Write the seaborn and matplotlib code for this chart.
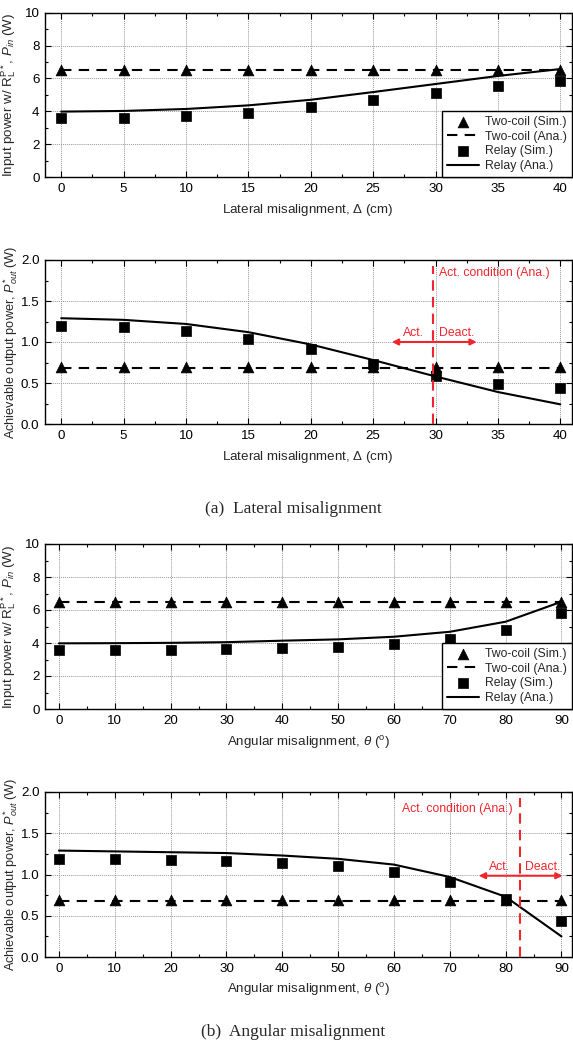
import numpy as np
import pandas as pd
import matplotlib
matplotlib.use("Agg")
import matplotlib.pyplot as plt
import seaborn as sns
from matplotlib.ticker import MultipleLocator

# ---------------- data ----------------
lat_x = [0, 5, 10, 15, 20, 25, 30, 35, 40]
lat_pin_two_sim = [6.5, 6.5, 6.5, 6.5, 6.5, 6.5, 6.5, 6.5, 6.5]
lat_pin_two_ana = [6.5, 6.5, 6.5, 6.5, 6.5, 6.5, 6.5, 6.5, 6.5]
lat_pin_relay_sim = [3.57, 3.60, 3.69, 3.90, 4.24, 4.69, 5.13, 5.52, 5.84]
lat_pin_relay_ana = [3.98, 4.02, 4.14, 4.36, 4.70, 5.17, 5.66, 6.15, 6.57]

lat_pout_two_sim = [0.69, 0.69, 0.69, 0.69, 0.69, 0.69, 0.69, 0.69, 0.69]
lat_pout_two_ana = [0.68, 0.68, 0.68, 0.68, 0.68, 0.68, 0.68, 0.68, 0.68]
lat_pout_relay_sim = [1.19, 1.18, 1.13, 1.04, 0.91, 0.73, 0.59, 0.49, 0.435]
lat_pout_relay_ana = [1.29, 1.27, 1.22, 1.12, 0.97, 0.78, 0.58, 0.39, 0.24]
lat_act = 29.8

ang_x = [0, 10, 20, 30, 40, 50, 60, 70, 80, 90]
ang_pin_two_sim = [6.5] * 10
ang_pin_two_ana = [6.5] * 10
ang_pin_relay_sim = [3.58, 3.58, 3.58, 3.62, 3.68, 3.78, 3.92, 4.24, 4.77, 5.82]
ang_pin_relay_ana = [3.98, 3.99, 4.01, 4.05, 4.14, 4.22, 4.38, 4.68, 5.29, 6.50]

ang_pout_two_sim = [0.69] * 10
ang_pout_two_ana = [0.68] * 10
ang_pout_relay_sim = [1.19, 1.19, 1.18, 1.16, 1.14, 1.10, 1.03, 0.91, 0.70, 0.44]
ang_pout_relay_ana = [1.29, 1.28, 1.27, 1.26, 1.23, 1.19, 1.12, 0.97, 0.73, 0.25]
ang_act = 82.5

labels = ["Two-coil (Sim.)", "Two-coil (Ana.)", "Relay (Sim.)", "Relay (Ana.)"]

# ---------------- style ----------------
sns.set_style("ticks")
plt.rcParams["font.family"] = ["Liberation Sans", "DejaVu Sans"]
plt.rcParams["mathtext.fontset"] = "custom"
plt.rcParams["mathtext.rm"] = "Liberation Sans"
plt.rcParams["mathtext.it"] = "Liberation Sans:italic"
FS = 9.6      # ticks and axis labels
LFS = 8.8     # legend and annotations
RED = "#f0262e"

fig = plt.figure(figsize=(5.73, 10.54), dpi=100)
W, H = 573.0, 1054.0


def make_ax(top, bottom):
    return fig.add_axes([45 / W, 1 - bottom / H, 526.5 / W, (bottom - top) / H])


def style_ax(ax, xlim, xmaj, xmin, ylim, ymaj, ymin, fmt):
    ax.set_xlim(*xlim)
    ax.set_ylim(*ylim)
    ax.xaxis.set_major_locator(MultipleLocator(xmaj))
    ax.xaxis.set_minor_locator(MultipleLocator(xmin))
    ax.yaxis.set_major_locator(MultipleLocator(ymaj))
    ax.yaxis.set_minor_locator(MultipleLocator(ymin))
    ax.yaxis.set_major_formatter(plt.FormatStrFormatter(fmt))
    ax.grid(True, which="major", color="#999999", linestyle=(0, (1, 1)), linewidth=0.7)
    ax.tick_params(which="both", direction="in", top=True, right=True, labelsize=FS, colors="black")
    ax.tick_params(which="major", length=4, width=0.8, pad=4)
    ax.tick_params(which="minor", length=2.5, width=0.8)
    for s in ax.spines.values():
        s.set_color("black")
        s.set_linewidth(1.0)
    ax.set_axisbelow(True)


def draw(ax, x, two_sim, two_ana, relay_sim, relay_ana, legend):
    sns.lineplot(x=x, y=two_ana, ax=ax, color="black", linestyle=(0, (5, 3.5)), lw=1.5,
                 label=labels[1], zorder=2)
    sns.lineplot(x=x, y=relay_ana, ax=ax, color="black", lw=1.5, label=labels[3], zorder=2)
    sns.scatterplot(x=x, y=two_sim, ax=ax, color="black", marker="^", s=60, edgecolor="black",
                    linewidth=0.5, label=labels[0], zorder=3)
    sns.scatterplot(x=x, y=relay_sim, ax=ax, color="black", marker="s", s=42, edgecolor="black",
                    linewidth=0.5, label=labels[2], zorder=3)
    h, l = ax.get_legend_handles_labels()
    if legend:
        order = [l.index(t) for t in labels]
        leg = ax.legend([h[i] for i in order], [l[i] for i in order], loc="lower right",
                        borderaxespad=0, fontsize=LFS, frameon=True, fancybox=False,
                        edgecolor="black", framealpha=1, handlelength=2.6,
                        labelspacing=0.22, borderpad=0.4, handletextpad=0.5)
        leg.get_frame().set_linewidth(1.0)
    else:
        ax.get_legend().remove()


def act_marks(ax, xv, ytop, text_x, text_y, text_ha, ay, left, right, act_x, deact_x, lab_y):
    ax.plot([xv, xv], [ax.get_ylim()[0], ytop], color=RED, linestyle=(0, (5, 3)), lw=1.5, zorder=4)
    ax.text(text_x, text_y, "Act. condition (Ana.)", color=RED, fontsize=LFS, ha=text_ha, va="center")
    ap = dict(arrowstyle="-|>", color=RED, lw=1.5, mutation_scale=9, shrinkA=0, shrinkB=0)
    ax.annotate("", xy=(left, ay), xytext=(xv, ay), arrowprops=ap, zorder=4)
    ax.annotate("", xy=(right, ay), xytext=(xv, ay), arrowprops=ap, zorder=4)
    ax.text(act_x, lab_y, "Act.", color=RED, fontsize=LFS, ha="center", va="center")
    ax.text(deact_x, lab_y, "Deact.", color=RED, fontsize=LFS, ha="center", va="center")


pin_label = r"Input power w/ R$_{\mathrm{L}}^{\mathrm{P*}}$, $P_{in}$ (W)"
pout_label = r"Achievable output power, $P^{*}_{out}$ (W)"
lat_label = r"Lateral misalignment, $\mathit{Δ}$ (cm)"
ang_label = r"Angular misalignment, $\theta$ ($^{\mathrm{o}}$)"

# Panel 1
ax1 = make_ax(12.7, 177)
draw(ax1, lat_x, lat_pin_two_sim, lat_pin_two_ana, lat_pin_relay_sim, lat_pin_relay_ana, True)
style_ax(ax1, (-1.3, 40.9), 5, 2.5, (0, 10), 2, 1, "%d")
ax1.set_xlabel(lat_label, fontsize=FS, labelpad=5)
ax1.set_ylabel(pin_label, fontsize=FS, labelpad=5)

# Panel 2
ax2 = make_ax(260, 424)
draw(ax2, lat_x, lat_pout_two_sim, lat_pout_two_ana, lat_pout_relay_sim, lat_pout_relay_ana, False)
style_ax(ax2, (-1.3, 40.9), 5, 2.5, (0, 2.0), 0.5, 0.25, "%.1f")
act_marks(ax2, lat_act, 1.93, 30.3, 1.84, "left", 1.0, 26.5, 33.3, 28.2, 31.7, 1.11)
ax2.set_xlabel(lat_label, fontsize=FS, labelpad=5)
ax2.set_ylabel(pout_label, fontsize=9.2, labelpad=0.5)

# Panel 3
ax3 = make_ax(544, 709)
draw(ax3, ang_x, ang_pin_two_sim, ang_pin_two_ana, ang_pin_relay_sim, ang_pin_relay_ana, True)
style_ax(ax3, (-2.5, 91.8), 10, 5, (0, 10), 2, 1, "%d")
ax3.set_xlabel(ang_label, fontsize=FS, labelpad=5)
ax3.set_ylabel(pin_label, fontsize=FS, labelpad=5)

# Panel 4
ax4 = make_ax(792, 957)
draw(ax4, ang_x, ang_pout_two_sim, ang_pout_two_ana, ang_pout_relay_sim, ang_pout_relay_ana, False)
style_ax(ax4, (-2.5, 91.8), 10, 5, (0, 2.0), 0.5, 0.25, "%.1f")
act_marks(ax4, ang_act, 1.93, 81.3, 1.79, "right", 0.985, 75.2, 90.2, 78.9, 86.6, 1.09)
ax4.set_xlabel(ang_label, fontsize=FS, labelpad=5)
ax4.set_ylabel(pout_label, fontsize=9.2, labelpad=0.5)

# Captions
fig.text(293 / W, 1 - 509 / H, "(a)  Lateral misalignment", family="Liberation Serif",
         fontsize=12.5, ha="center", va="center")
fig.text(293 / W, 1 - 1032 / H, "(b)  Angular misalignment", family="Liberation Serif",
         fontsize=12.5, ha="center", va="center")

fig.savefig("out.png", dpi=100)
